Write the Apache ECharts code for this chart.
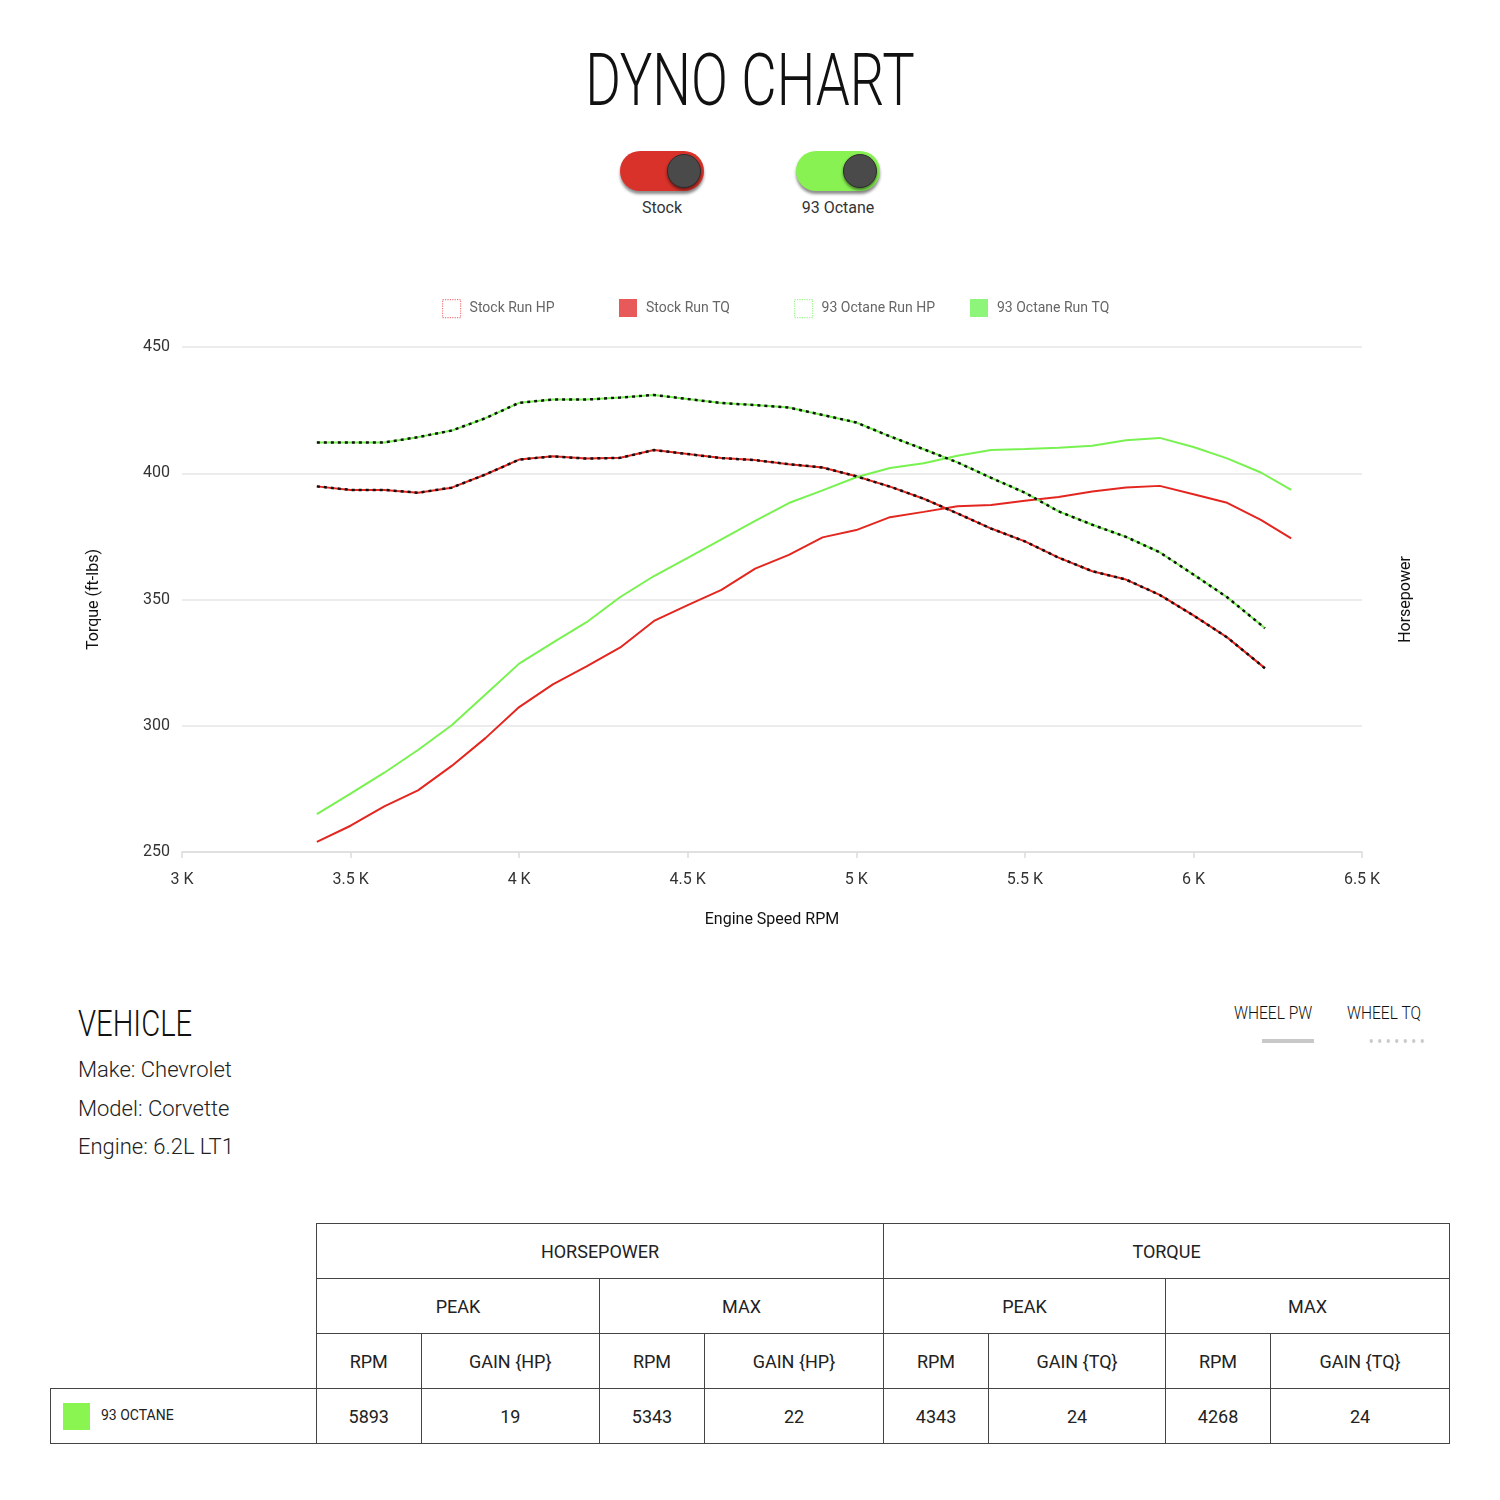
<!DOCTYPE html>
<html lang="en">
<head>
    <meta charset="UTF-8">
    <title>Dyno Chart</title>
    <style>
        * {
            margin: 0;
            padding: 0;
        }

        body {
            width: 1500px;
            height: 1500px;
            position: relative;
            background: #fff;
            font-family: Roboto, sans-serif;
            color: #222;
        }

        .title {
            position: absolute;
            top: 45px;
            left: 0;
            width: 1500px;
            text-align: center;
            font-size: 72px;
            line-height: 72px;
            font-weight: 300;
            color: #111;
            transform: scaleX(0.757);
        }

        .toggle {
            position: absolute;
            top: 151px;
            width: 84px;
            height: 40px;
            border-radius: 20px;
            box-shadow: 0 3px 3px rgba(0, 0, 0, 0.45);
        }

        .toggle .knob {
            position: absolute;
            top: 3px;
            right: 3px;
            width: 32px;
            height: 32px;
            border-radius: 50%;
            background: #4a4a4a;
            border: 1px solid #2e2e2e;
            box-shadow: 0 2px 3px rgba(0, 0, 0, 0.5);
        }

        .toggle-label {
            position: absolute;
            top: 198px;
            width: 160px;
            text-align: center;
            font-size: 16px;
            line-height: 20px;
            color: #333;
        }

        #myEcharts {
            position: absolute;
            top: 260px;
            left: 0;
            width: 1500px;
            height: 700px;
        }

        .vehicle-head {
            position: absolute;
            left: 78px;
            top: 1004px;
            font-size: 37px;
            line-height: 40px;
            font-weight: 300;
            color: #111;
            transform: scaleX(0.79);
            transform-origin: left top;
        }

        .vehicle-info {
            position: absolute;
            left: 78px;
            top: 1051px;
            font-size: 22px;
            line-height: 38.5px;
            font-weight: 300;
            color: #222;
        }

        .wheel {
            position: absolute;
            top: 1002px;
            font-size: 19px;
            line-height: 22px;
            font-weight: 300;
            color: #111;
            transform: scaleX(0.82);
            transform-origin: left top;
        }

        .wheel-bar {
            position: absolute;
            left: 1262px;
            top: 1039px;
            width: 52px;
            height: 4px;
            background: #c8c8c8;
        }

        .wheel-dots {
            position: absolute;
            left: 1367px;
            top: 1039px;
            width: 59px;
            height: 4px;
            background-image: radial-gradient(circle, #c8c8c8 1.6px, transparent 2px);
            background-size: 8.5px 4px;
        }

        table {
            position: absolute;
            left: 50px;
            top: 1223px;
            width: 1399px;
            border-collapse: collapse;
            table-layout: fixed;
        }

        td {
            height: 54px;
            border: 1.5px solid #444;
            text-align: center;
            font-size: 18px;
            color: #222;
        }

        td.blank {
            border: none;
        }

        td.run {
            text-align: left;
            font-size: 14px;
            padding-left: 12px;
        }

        td.run span {
            display: inline-block;
            width: 27px;
            height: 27px;
            vertical-align: middle;
            margin-right: 11px;
        }
    </style>
</head>
<body>
    <div class="title">DYNO CHART</div>

    <div class="toggle" style="left:620px;background:#d8322a;"><div class="knob"></div></div>
    <div class="toggle-label" style="left:582px;">Stock</div>
    <div class="toggle" style="left:796px;background:#88f252;"><div class="knob"></div></div>
    <div class="toggle-label" style="left:758px;">93 Octane</div>

    <div id="myEcharts"></div>

    <div class="vehicle-head">VEHICLE</div>
    <div class="vehicle-info" id="vehicleInfo"></div>

    <div class="wheel" style="left:1234px;">WHEEL PW</div>
    <div class="wheel-bar"></div>
    <div class="wheel" style="left:1347px;">WHEEL TQ</div>
    <div class="wheel-dots"></div>

    <table id="gainTable">
        <colgroup>
            <col style="width:266px">
            <col style="width:104.5px">
            <col style="width:178.5px">
            <col style="width:105px">
            <col style="width:179px">
            <col style="width:105px">
            <col style="width:177px">
            <col style="width:105px">
            <col style="width:179px">
        </colgroup>
        <tbody></tbody>
    </table>

    <script src="https://cdn.jsdelivr.net/npm/echarts@6/dist/echarts.min.js"></script>
    <script>
        // rpm samples (torque runs go a little further than hp runs)
        var rpmTq = [3400, 3500, 3600, 3700, 3800, 3900, 4000, 4100, 4200, 4300, 4400, 4500, 4600, 4700, 4800,
            4900, 5000, 5100, 5200, 5300, 5400, 5500, 5600, 5700, 5800, 5900, 6000, 6100, 6200, 6290];
        var rpmHp = [3400, 3500, 3600, 3700, 3800, 3900, 4000, 4100, 4200, 4300, 4400, 4500, 4600, 4700, 4800,
            4900, 5000, 5100, 5200, 5300, 5400, 5500, 5600, 5700, 5800, 5900, 6000, 6100, 6200, 6212];

        var stockTq = [254, 260.4, 268.1, 274.4, 284.1, 295.1, 307.4, 316.4, 323.5, 331, 341.5, 347.8, 353.8, 362.2, 367.7,
            374.6, 377.5, 382.6, 384.7, 386.9, 387.4, 389.1, 390.6, 392.8, 394.4, 395, 391.7, 388.3, 381.5, 374.2];
        var octaneTq = [265, 273.1, 281.4, 290.4, 300.2, 312.4, 324.6, 332.9, 341, 351, 359.3, 366.5, 373.8, 381.1, 388.2,
            393.2, 398.4, 402.1, 404, 406.9, 409.2, 409.6, 410.1, 410.9, 413.1, 414, 410.4, 405.9, 400.3, 393.4];
        var stockHp = [394.8, 393.4, 393.4, 392.3, 394.3, 399.5, 405.4, 406.7, 405.8, 406.1, 409.2, 407.6, 406, 405.2, 403.6,
            402.3, 398.8, 394.7, 389.9, 384.1, 378.1, 373, 366.6, 361.2, 357.9, 351.8, 343.7, 335, 324.1, 322.8];
        var octaneHp = [412.2, 412.2, 412.2, 414.3, 416.9, 421.8, 427.9, 429.2, 429.2, 430, 431, 429.4, 427.8, 427, 426,
            423.1, 420.1, 414.6, 409.5, 404.3, 398.2, 392.3, 384.9, 379.6, 374.8, 368.7, 359.9, 350.9, 340, 338.6];

        var seriesNames = ['Stock Run HP', 'Stock Run TQ', '93 Octane Run HP', '93 Octane Run TQ'];
        var vehicleLines = ['Make: Chevrolet', 'Model: Corvette', 'Engine: 6.2L LT1'];

        var tableGroups = ['HORSEPOWER', 'TORQUE'];
        var tableSubGroups = ['PEAK', 'MAX', 'PEAK', 'MAX'];
        var tableCols = ['RPM', 'GAIN {HP}', 'RPM', 'GAIN {HP}', 'RPM', 'GAIN {TQ}', 'RPM', 'GAIN {TQ}'];
        var runName = '93 OCTANE';
        var runValues = [5893, 19, 5343, 22, 4343, 24, 4268, 24];

        var RED = '#e3261f';
        var GREEN = '#78f250';

        function pairs(xs, ys) {
            return xs.map(function (x, i) { return [x, ys[i]]; });
        }

        function lineSeries(name, data, color, yIdx, dashed) {
            return {
                name: name,
                type: 'line',
                yAxisIndex: yIdx,
                data: data,
                showSymbol: false,
                smooth: false,
                z: dashed ? 4 : 2,
                lineStyle: dashed ? { color: '#111', width: 2.5, type: [3, 4] } : { color: color, width: 2 },
                itemStyle: { color: color }
            };
        }

        // legend icons: hp runs are dotted outlines, tq runs filled squares
        var legendIcons = [
            { color: 'transparent', borderColor: '#f07a7a', borderWidth: 1.2, borderType: 'dotted' },
            { color: '#e85a5a' },
            { color: 'transparent', borderColor: '#9cf58a', borderWidth: 1.2, borderType: 'dotted' },
            { color: '#8cf57a' }
        ];
        var legendLeft = [437, 614, 789, 965];

        var myEcharts = echarts.init(document.getElementById('myEcharts'));
        var option = {
            animation: false,
            textStyle: { fontFamily: 'Roboto' },
            legend: seriesNames.map(function (name, i) {
                return {
                    left: legendLeft[i],
                    top: 34,
                    itemWidth: 18,
                    itemHeight: 18,
                    textStyle: { color: '#666', fontSize: 14, padding: [0, 0, 0, 4] },
                    data: [{ name: name, icon: 'rect', itemStyle: legendIcons[i] }]
                };
            }),
            grid: { left: 182, width: 1180, top: 87, height: 505 },
            xAxis: {
                type: 'value',
                min: 3000,
                max: 6500,
                interval: 500,
                name: 'Engine Speed RPM',
                nameLocation: 'middle',
                nameGap: 60,
                nameTextStyle: { fontSize: 16, color: '#111' },
                axisLine: { lineStyle: { color: '#dcdcdc', width: 1.5 } },
                axisTick: { show: true, length: 6, lineStyle: { color: '#dcdcdc', width: 1.5 } },
                splitLine: { show: false },
                axisLabel: {
                    fontSize: 16,
                    color: '#333',
                    margin: 20,
                    formatter: function (v) { return (v / 1000) + ' K'; }
                }
            },
            yAxis: [{
                type: 'value',
                min: 250,
                max: 450,
                interval: 50,
                name: 'Torque (ft-lbs)',
                nameLocation: 'middle',
                nameGap: 80,
                nameRotate: 90,
                nameTextStyle: { fontSize: 16, color: '#111' },
                axisLine: { show: false },
                axisTick: { show: false },
                axisLabel: { fontSize: 16, color: '#333', margin: 12 },
                splitLine: { lineStyle: { color: '#e6e6e6', width: 1.5 } }
            }, {
                type: 'value',
                position: 'right',
                min: 250,
                max: 450,
                interval: 50,
                name: 'Horsepower',
                nameLocation: 'middle',
                nameGap: 36,
                nameRotate: 90,
                nameTextStyle: { fontSize: 16, color: '#111' },
                axisLine: { show: false },
                axisTick: { show: false },
                axisLabel: { show: false },
                splitLine: { show: false }
            }],
            series: [
                lineSeries(seriesNames[0], pairs(rpmHp, stockHp), RED, 1, false),
                lineSeries(seriesNames[0], pairs(rpmHp, stockHp), RED, 1, true),
                lineSeries(seriesNames[1], pairs(rpmTq, stockTq), RED, 0, false),
                lineSeries(seriesNames[2], pairs(rpmHp, octaneHp), GREEN, 1, false),
                lineSeries(seriesNames[2], pairs(rpmHp, octaneHp), GREEN, 1, true),
                lineSeries(seriesNames[3], pairs(rpmTq, octaneTq), GREEN, 0, false)
            ]
        };
        myEcharts.setOption(option);

        // vehicle text
        document.getElementById('vehicleInfo').innerHTML = vehicleLines.map(function (l) {
            return '<div>' + l + '</div>';
        }).join('');

        // gain table
        var rows = [];
        rows.push('<tr><td class="blank" rowspan="3"></td>' + tableGroups.map(function (g) {
            return '<td colspan="4">' + g + '</td>';
        }).join('') + '</tr>');
        rows.push('<tr>' + tableSubGroups.map(function (g) {
            return '<td colspan="2">' + g + '</td>';
        }).join('') + '</tr>');
        rows.push('<tr>' + tableCols.map(function (c) {
            return '<td>' + c + '</td>';
        }).join('') + '</tr>');
        rows.push('<tr><td class="run"><span style="background:#8af551"></span>' + runName + '</td>' + runValues.map(function (v) {
            return '<td>' + v + '</td>';
        }).join('') + '</tr>');
        document.querySelector('#gainTable tbody').innerHTML = rows.join('');
    </script>
</body>
</html>
